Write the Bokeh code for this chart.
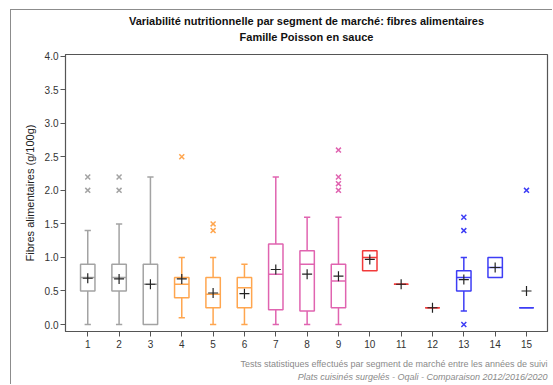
from bokeh.plotting import figure
from bokeh.models import ColumnDataSource, Title, Range1d, NumeralTickFormatter
from bokeh.embed import file_html
from bokeh.resources import INLINE

# ---- data ----
categories = list(range(1, 16))
q1 = [0.5, 0.5, 0.0, 0.4, 0.25, 0.25, 0.22, 0.2, 0.25, 0.8, 0.6, 0.25, 0.5, 0.7, 0.25]
median = [0.7, 0.7, 0.6, 0.6, 0.45, 0.55, 0.75, 0.9, 0.65, 1.0, 0.6, 0.25, 0.7, 0.85, 0.25]
q3 = [0.9, 0.9, 0.9, 0.7, 0.7, 0.7, 1.2, 1.1, 0.9, 1.1, 0.6, 0.25, 0.8, 1.0, 0.25]
whisker_low = [0.0, 0.0, 0.0, 0.1, 0.0, 0.0, 0.0, 0.0, 0.0, 0.8, 0.6, 0.25, 0.2, 0.7, 0.25]
whisker_high = [1.4, 1.5, 2.2, 1.0, 1.0, 0.9, 2.2, 1.6, 1.6, 1.1, 0.6, 0.25, 1.0, 1.0, 0.25]
means = [0.69, 0.68, 0.6, 0.68, 0.47, 0.46, 0.82, 0.75, 0.72, 0.97, 0.6, 0.25, 0.67, 0.85, 0.5]
outlier_cat = [1, 1, 2, 2, 4, 5, 5, 9, 9, 9, 9, 13, 13, 13, 15]
outlier_val = [2.2, 2.0, 2.2, 2.0, 2.5, 1.5, 1.4, 2.6, 2.2, 2.1, 2.0, 1.6, 1.4, 0.0, 2.0]
y_ticks = [0.0, 0.5, 1.0, 1.5, 2.0, 2.5, 3.0, 3.5, 4.0]

title_lines = ["Variabilité nutritionnelle par segment de marché: fibres alimentaires",
               "Famille Poisson en sauce"]
footer_lines = ["Tests statistiques effectués par segment de marché entre les années de suivi",
                "Plats cuisinés surgelés - Oqali - Comparaison 2012/2016/2020"]

group_colors = ["#A3A3A3", "#FFA64F", "#E064B0", "#F23A3A", "#3D3DF5"]
colors = [group_colors[(c - 1) // 3] for c in categories]

BOX_W = 0.46
CAP_W = 0.2

box_src = ColumnDataSource(dict(
    x=categories, left=[c - BOX_W / 2 for c in categories], right=[c + BOX_W / 2 for c in categories],
    q1=q1, q3=q3, med=median, mean=means, color=colors))

# whiskers only where they extend beyond the box
lo_i = [i for i in range(15) if whisker_low[i] < q1[i]]
hi_i = [i for i in range(15) if whisker_high[i] > q3[i]]
lo_src = ColumnDataSource(dict(
    x=[categories[i] for i in lo_i], y0=[q1[i] for i in lo_i], y1=[whisker_low[i] for i in lo_i],
    cl=[categories[i] - CAP_W / 2 for i in lo_i], cr=[categories[i] + CAP_W / 2 for i in lo_i],
    color=[colors[i] for i in lo_i]))
hi_src = ColumnDataSource(dict(
    x=[categories[i] for i in hi_i], y0=[q3[i] for i in hi_i], y1=[whisker_high[i] for i in hi_i],
    cl=[categories[i] - CAP_W / 2 for i in hi_i], cr=[categories[i] + CAP_W / 2 for i in hi_i],
    color=[colors[i] for i in hi_i]))
out_src = ColumnDataSource(dict(
    x=outlier_cat, y=outlier_val, color=[group_colors[(c - 1) // 3] for c in outlier_cat]))

FONT = "Liberation Sans"

p = figure(width=542, height=375, output_backend="svg", toolbar_location=None, title=None,
           x_range=Range1d(0.29, 15.67), y_range=Range1d(-0.104, 4.025),
           min_border_left=54, min_border_right=6, min_border_top=44, min_border_bottom=54)
p.margin = (9, 0, 0, 10)
p.styles = {"border-left": "1px solid #8c8c8c", "border-top": "1px solid #8c8c8c"}

for src in (lo_src, hi_src):
    p.segment(x0="x", y0="y0", x1="x", y1="y1", color="color", line_width=1.5, source=src)
    p.segment(x0="cl", y0="y1", x1="cr", y1="y1", color="color", line_width=1.5, source=src)

p.quad(left="left", right="right", bottom="q1", top="q3", fill_color="white",
       line_color="color", line_width=1.5, source=box_src)
p.segment(x0="left", y0="med", x1="right", y1="med", color="color", line_width=1.5, source=box_src)
p.scatter(x="x", y="mean", marker="cross", size=10, line_color="#222222", line_width=1.2, source=box_src)
p.scatter(x="x", y="y", marker="x", size=7, line_color="color", line_width=1.5, source=out_src)

p.xgrid.visible = False
p.ygrid.visible = False
p.outline_line_color = "#555555"
p.outline_line_width = 1.2

p.xaxis.ticker = categories
p.yaxis.ticker = y_ticks
p.yaxis.formatter = NumeralTickFormatter(format="0.0")
for ax in (p.xaxis, p.yaxis):
    ax.axis_line_color = "#555555"
    ax.major_tick_line_color = "#555555"
    ax.minor_tick_line_color = None
    ax.major_tick_in = 0
    ax.major_tick_out = 5
    ax.major_label_text_font = FONT
    ax.major_label_text_font_size = "10px"
    ax.major_label_text_color = "#333333"
p.xaxis.major_label_standoff = 3
p.yaxis.major_label_standoff = 2
p.yaxis.axis_label = "Fibres alimentaires (g/100g)"
p.yaxis.axis_label_text_font = FONT
p.yaxis.axis_label_text_font_style = "normal"
p.yaxis.axis_label_text_font_size = "11px"
p.yaxis.axis_label_text_color = "#222222"
p.yaxis.axis_label_standoff = 6

# footer (below): spacer, then the two lines (first added is nearest the plot)
p.add_layout(Title(text=" ", text_font_size="1px", standoff=3), "below")
p.add_layout(Title(text=footer_lines[0], align="right", text_font=FONT, text_font_size="9px",
                   text_font_style="normal", text_color="#8a8a8a", standoff=1), "below")
p.add_layout(Title(text=footer_lines[1], align="right", text_font=FONT, text_font_size="9px",
                   text_font_style="italic", text_color="#8a8a8a", standoff=1), "below")

# titles (above): spacer nearest the plot, later added sits higher
p.add_layout(Title(text=" ", text_font_size="8px", standoff=0), "above")
p.add_layout(Title(text=title_lines[1], align="center", text_font=FONT, text_font_size="11px",
                   text_font_style="bold", text_color="#111111", standoff=2), "above")
p.add_layout(Title(text=title_lines[0], align="center", text_font=FONT, text_font_size="11px",
                   text_font_style="bold", text_color="#111111", standoff=1), "above")

open("out.html", "w").write(file_html(p, INLINE))
